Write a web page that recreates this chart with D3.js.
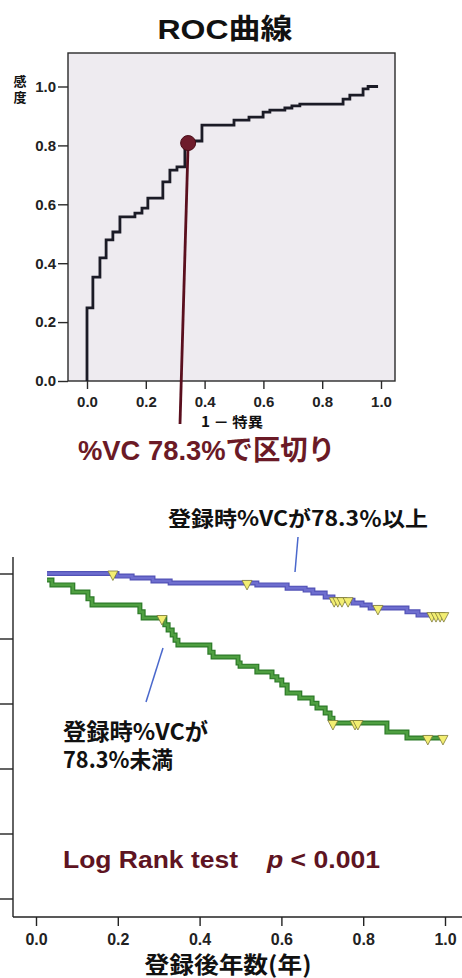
<!DOCTYPE html>
<html>
<head>
<meta charset="utf-8">
<script src="https://cdn.jsdelivr.net/npm/d3@7"></script>
<style>
  body { margin: 0; background: #fff; }
  svg { display: block; }
</style>
</head>
<body>
<div id="chart"></div>
<script>
// ---- ROC curve ----
const rocFpr = [0, 0.020, 0.044, 0.065, 0.088, 0.112, 0.163, 0.187, 0.207, 0.258, 0.282, 0.306,
                0.333, 0.391, 0.500, 0.551, 0.599, 0.622, 0.673, 0.697, 0.724, 0.871, 0.894,
                0.939, 0.956, 0.990];
const rocTpr = [0, 0.248, 0.353, 0.418, 0.479, 0.506, 0.557, 0.570, 0.587, 0.621, 0.676, 0.716,
                0.727, 0.815, 0.869, 0.886, 0.896, 0.913, 0.920, 0.927, 0.934, 0.940, 0.957,
                0.971, 0.992, 1.0];
const cutFpr = 0.344;
const cutTpr = 0.808;
const rocTicks = [0, 0.2, 0.4, 0.6, 0.8, 1.0];

// ---- Kaplan-Meier curves ----
// %VC >= 78.3%
const hiTime = [0.027, 0.198, 0.235, 0.286, 0.328, 0.540, 0.614, 0.658, 0.677, 0.707, 0.726,
                0.775, 0.797, 0.817, 0.907, 0.934];
const hiSurv = [1.0, 0.992, 0.986, 0.977, 0.971, 0.965, 0.955, 0.949, 0.940, 0.928, 0.918,
                0.909, 0.903, 0.894, 0.882, 0.872];
const hiCensor = [0.188, 0.516, 0.729, 0.738, 0.748, 0.763, 0.836, 0.968, 0.978, 0.988, 0.997];
// %VC < 78.3%
const loTime = [0.027, 0.039, 0.090, 0.127, 0.137, 0.254, 0.262, 0.315, 0.323, 0.333, 0.340,
                0.347, 0.425, 0.433, 0.494, 0.499, 0.540, 0.577, 0.589, 0.601, 0.614, 0.645,
                0.675, 0.687, 0.707, 0.719, 0.726, 0.858, 0.907];
const loSurv = [0.980, 0.965, 0.943, 0.922, 0.903, 0.882, 0.863, 0.842, 0.826, 0.811, 0.795,
                0.780, 0.758, 0.743, 0.725, 0.715, 0.697, 0.682, 0.672, 0.657, 0.632, 0.617,
                0.601, 0.586, 0.571, 0.555, 0.540, 0.512, 0.494];
const loCensor = [0.308, 0.726, 0.780, 0.787, 0.958, 0.995];
const kmEnd = 0.997;
const kmTimeTicks = [0, 0.2, 0.4, 0.6, 0.8, 1.0];
const kmSurvTicks = [0, 0.2, 0.4, 0.6, 0.8, 1.0];

const W = 462, H = 978;
const latin = '"Liberation Sans", Arial, "Noto Sans CJK JP", sans-serif';
const jp = '"Noto Sans CJK JP", "Noto Sans", sans-serif';
const maroon = '#5e1422';

const svg = d3.select('#chart').append('svg')
    .attr('width', W)
    .attr('height', H)
    .attr('viewBox', `0 0 ${W} ${H}`);

// helper for annotation text, stretched to the width seen in the picture
function label(x, y, str, size, width, opts = {}) {
    const t = svg.append('text')
        .attr('x', x)
        .attr('y', y)
        .attr('font-family', opts.family || jp)
        .attr('font-weight', 'bold')
        .attr('font-size', size)
        .attr('fill', opts.fill || '#111')
        .attr('text-anchor', opts.anchor || 'start')
        .text(str);
    if (width) t.attr('textLength', width).attr('lengthAdjust', 'spacingAndGlyphs');
    return t;
}

// ================= ROC =================
const rx = d3.scaleLinear().domain([0, 1]).range([87, 381]);
const ry = d3.scaleLinear().domain([0, 1]).range([381, 86.5]);

const roc = svg.append('g').attr('class', 'roc');

// plot frame
roc.append('rect')
    .attr('x', 68).attr('y', 53)
    .attr('width', 395 - 68).attr('height', 381 - 53)
    .attr('fill', '#eeebf0')
    .attr('stroke', '#2a2a2a')
    .attr('stroke-width', 1.4);

const rocY = roc.append('g')
    .attr('transform', 'translate(68,0)')
    .call(d3.axisLeft(ry).tickValues(rocTicks).tickFormat(d3.format('.1f'))
        .tickSize(10).tickPadding(2));
const rocX = roc.append('g')
    .attr('transform', 'translate(0,381)')
    .call(d3.axisBottom(rx).tickValues(rocTicks).tickFormat(d3.format('.1f'))
        .tickSize(8).tickPadding(7));
[rocY, rocX].forEach(a => {
    a.select('.domain').remove();
    a.selectAll('line').attr('stroke', '#2a2a2a').attr('stroke-width', 1.4);
    a.selectAll('text')
        .attr('fill', '#222')
        .attr('font-family', latin)
        .attr('font-weight', 'bold')
        .attr('font-size', 15);
});

// curve
const rocPts = rocFpr.map((f, i) => [f, rocTpr[i]]);
roc.append('path')
    .datum(rocPts)
    .attr('fill', 'none')
    .attr('stroke', '#1b1b26')
    .attr('stroke-width', 2.8)
    .attr('d', d3.line().x(d => rx(d[0])).y(d => ry(d[1])).curve(d3.curveStepBefore));

// cut-off marker and its leader
roc.append('line')
    .attr('x1', rx(cutFpr)).attr('y1', ry(cutTpr))
    .attr('x2', 180).attr('y2', 424)
    .attr('stroke', '#5a0f1e')
    .attr('stroke-width', 2.8);
roc.append('circle')
    .attr('cx', rx(cutFpr)).attr('cy', ry(cutTpr))
    .attr('r', 7.5)
    .attr('fill', '#6e1c2c')
    .attr('stroke', '#4a0c18')
    .attr('stroke-width', 1);

label(225, 39, 'ROC曲線', 28, 135, { anchor: 'middle', family: latin });
label(20, 86, '感', 13, null, { anchor: 'middle' });
label(20, 102, '度', 13, null, { anchor: 'middle' });
label(232, 427, '1 － 特異', 14, 62, { anchor: 'middle' });
label(78, 460, '%VC 78.3%で区切り', 28, 257, { family: latin, fill: '#6b1a26' });

// ================= Kaplan-Meier =================
const kx = d3.scaleLinear().domain([0, 1]).range([36, 445]);
const ky = d3.scaleLinear().domain([0, 1]).range([898.5, 573.5]);

const km = svg.append('g').attr('class', 'km');

km.append('line').attr('x1', 13).attr('y1', 557).attr('x2', 13).attr('y2', 917)
    .attr('stroke', '#222').attr('stroke-width', 1.4);
km.append('line').attr('x1', 13).attr('y1', 917).attr('x2', W).attr('y2', 917)
    .attr('stroke', '#222').attr('stroke-width', 1.4);

const kmY = km.append('g')
    .attr('transform', 'translate(13,0)')
    .call(d3.axisLeft(ky).tickValues(kmSurvTicks).tickFormat('').tickSize(13));
const kmX = km.append('g')
    .attr('transform', 'translate(0,917)')
    .call(d3.axisBottom(kx).tickValues(kmTimeTicks).tickFormat(d3.format('.1f'))
        .tickSize(9).tickPadding(8));
[kmY, kmX].forEach(a => {
    a.select('.domain').remove();
    a.selectAll('line').attr('stroke', '#222').attr('stroke-width', 1.4);
    a.selectAll('text')
        .attr('fill', '#222')
        .attr('font-family', latin)
        .attr('font-weight', 'bold')
        .attr('font-size', 16);
});

function survAt(times, survs, t) {
    const i = d3.bisectRight(times, t) - 1;
    return survs[Math.max(0, i)];
}

const kmLine = d3.line().x(d => kx(d[0])).y(d => ky(d[1])).curve(d3.curveStepAfter);

function drawKM(times, survs, censor, dark, light) {
    const pts = times.map((t, i) => [t, survs[i]]);
    pts.push([kmEnd, survs[survs.length - 1]]);
    km.append('path').datum(pts)
        .attr('fill', 'none').attr('stroke', dark).attr('stroke-width', 5)
        .attr('d', kmLine);
    km.append('path').datum(pts)
        .attr('fill', 'none').attr('stroke', light).attr('stroke-width', 2.6)
        .attr('d', kmLine);
    km.append('g').selectAll('path')
        .data(censor)
        .join('path')
        .attr('transform', t => `translate(${kx(t)},${ky(survAt(times, survs, t))})`)
        .attr('d', 'M-5,-2.5L5,-2.5L0,7Z')
        .attr('fill', '#f3ee72')
        .attr('stroke', '#7d7a3a')
        .attr('stroke-width', 0.8);
}

drawKM(hiTime, hiSurv, hiCensor, '#5252b6', '#6e6ecf');
drawKM(loTime, loSurv, loCensor, '#2c7a28', '#4f9f41');

// leaders
km.append('line').attr('x1', 298).attr('y1', 537).attr('x2', 295).attr('y2', 572)
    .attr('stroke', '#4a68cc').attr('stroke-width', 1.5);
km.append('line').attr('x1', 163).attr('y1', 648).attr('x2', 146).attr('y2', 702)
    .attr('stroke', '#4a68cc').attr('stroke-width', 1.5);

label(168, 526, '登録時%VCが78.3％以上', 21, 260);
label(63, 740, '登録時%VCが', 23, 145);
label(63, 768, '78.3%未満', 23, 110);

label(63, 868, 'Log Rank test', 23, 175, { family: latin, fill: maroon });
label(267, 868, '', 23, 113, { family: latin, fill: maroon })
    .call(t => {
        t.append('tspan').attr('font-style', 'italic').text('p');
        t.append('tspan').text(' < 0.001');
    });

label(228, 973, '登録後年数(年)', 23, 167, { anchor: 'middle' });
</script>
</body>
</html>
